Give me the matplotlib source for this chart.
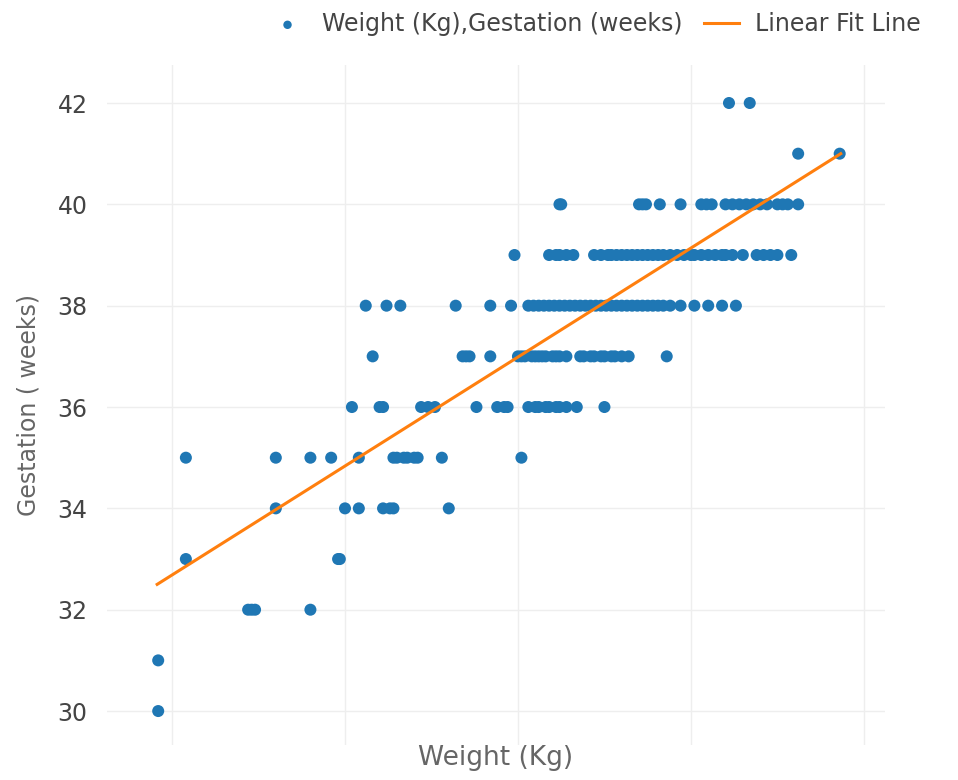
import matplotlib
matplotlib.use("Agg")
from matplotlib import pyplot as plt

plt.rcParams["font.family"] = ["DejaVu Sans"]

# weight (kg) for each gestation week
rows = {
    30: [1.46],
    31: [1.46],
    32: [1.72, 1.73, 1.74, 1.90],
    33: [1.54, 1.98, 1.985],
    34: [1.80, 2.00, 2.04, 2.11, 2.13, 2.14, 2.30],
    35: [1.54, 1.80, 1.90, 1.96, 2.04, 2.14, 2.15, 2.17, 2.18, 2.20, 2.21,
         2.28, 2.51],
    36: [2.02, 2.10, 2.11, 2.22, 2.24, 2.26, 2.38, 2.44, 2.46, 2.47, 2.53,
         2.55, 2.56, 2.58, 2.59, 2.61, 2.62, 2.64, 2.67, 2.75],
    37: [2.08, 2.34, 2.35, 2.36, 2.42, 2.50, 2.51, 2.52, 2.54, 2.55, 2.56,
         2.57, 2.58, 2.60, 2.61, 2.62, 2.64, 2.68, 2.69, 2.71, 2.72, 2.74,
         2.75, 2.77, 2.78, 2.80, 2.82, 2.93],
    38: [2.06, 2.12, 2.16, 2.32, 2.42, 2.48, 2.53, 2.545, 2.56, 2.575, 2.59,
         2.605, 2.62, 2.635, 2.65, 2.665, 2.68, 2.695, 2.71, 2.725, 2.74,
         2.755, 2.77, 2.785, 2.80, 2.815, 2.83, 2.845, 2.86, 2.875, 2.89,
         2.905, 2.92, 2.94, 2.97, 3.01, 3.05, 3.09, 3.13],
    39: [2.49, 2.59, 2.61, 2.62, 2.64, 2.66, 2.72, 2.74, 2.76, 2.77, 2.785,
         2.80, 2.815, 2.83, 2.845, 2.86, 2.875, 2.89, 2.905, 2.92, 2.94,
         2.96, 2.98, 3.00, 3.01, 3.03, 3.05, 3.07, 3.09, 3.10, 3.12, 3.15,
         3.19, 3.21, 3.23, 3.25, 3.29],
    40: [2.62, 2.625, 2.85, 2.86, 2.87, 2.91, 2.97, 3.03, 3.045, 3.06, 3.10,
         3.12, 3.14, 3.16, 3.18, 3.20, 3.22, 3.25, 3.265, 3.28, 3.31],
    41: [3.31, 3.43],
    42: [3.11, 3.17],
}

weight = [w for g in rows for w in rows[g]]
gestation = [g for g in rows for w in rows[g]]

# ends of the linear fit line
fit_weight = [1.457, 3.433]
fit_gestation = [32.5, 41.0]

fig = plt.figure(figsize=(9.58, 7.8), dpi=100)
ax = fig.add_axes([107 / 958, 35 / 780, 778 / 958, 680 / 780])

ax.scatter(weight, gestation, s=75, color="#1f77b4", edgecolors="none",
           label="Weight (Kg),Gestation (weeks)", zorder=3)
ax.plot(fit_weight, fit_gestation, color="#ff7f0e", linewidth=2.2,
        label="Linear Fit Line", zorder=4)

ax.set_xlim(1.312, 3.561)
ax.set_ylim(29.33, 42.75)
ax.set_xticks([1.5, 2.0, 2.5, 3.0, 3.5])
ax.set_yticks([30, 32, 34, 36, 38, 40, 42])
ax.tick_params(axis="x", labelbottom=False, length=0)
ax.tick_params(axis="y", length=0, pad=14, labelsize=17, labelcolor="#444444")
ax.grid(True, color="#eeeeee", linewidth=1)
ax.set_axisbelow(True)
for s in ax.spines.values():
    s.set_visible(False)

ax.set_xlabel("Weight (Kg)", fontsize=19, color="#666666", labelpad=0)
ax.set_ylabel("Gestation ( weeks)", fontsize=17, color="#666666", labelpad=12)

fig.legend(loc="center left", bbox_to_anchor=(258 / 958, 1 - 24 / 780),
           ncol=2, frameon=False, fontsize=17, handlelength=1.5,
           columnspacing=0.9, handletextpad=0.7, borderpad=0,
           labelcolor="#444444", markerscale=0.7)

fig.savefig("out.png", dpi=100)
